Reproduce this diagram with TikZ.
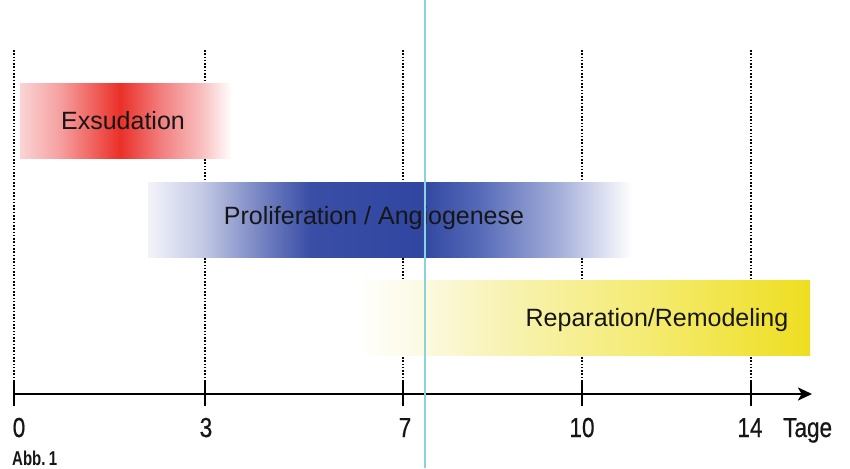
\documentclass[tikz,border=0pt]{standalone}
\usepackage{fontspec}
\setmainfont{Liberation Sans}
\newfontfamily\condfont[FakeStretch=0.82,FakeBold=0.6]{Liberation Sans}
\newfontfamily\abbfont[FakeStretch=0.75]{Liberation Sans Bold}
\usetikzlibrary{arrows.meta}

% colours of the phase bands
\definecolor{redA}{RGB}{250,212,212}
\definecolor{redB}{RGB}{246,160,160}
\definecolor{redC}{RGB}{234,48,40}
\definecolor{redD}{RGB}{242,125,125}
\definecolor{redE}{RGB}{248,188,188}
\definecolor{bluA}{RGB}{242,243,250}
\definecolor{bluB}{RGB}{198,203,230}
\definecolor{bluC}{RGB}{118,132,194}
\definecolor{bluD}{RGB}{58,78,166}
\definecolor{bluE}{RGB}{48,70,160}
\definecolor{bluF}{RGB}{86,106,184}
\definecolor{bluG}{RGB}{166,176,218}
\definecolor{yelA}{RGB}{252,250,228}
\definecolor{yelB}{RGB}{248,243,182}
\definecolor{yelC}{RGB}{244,235,112}
\definecolor{yelD}{RGB}{238,222,32}
\definecolor{guide}{RGB}{135,212,222}
\definecolor{ink}{RGB}{22,22,22}

% horizontal shadings: the band itself spans 25bp..75bp
\pgfdeclarehorizontalshading{redband}{100bp}{%
  color(0bp)=(redA); color(25bp)=(redA); color(34.4bp)=(redB);
  color(48.6bp)=(redC); color(58bp)=(redD); color(67.5bp)=(redE);
  color(75bp)=(white); color(100bp)=(white)}
\pgfdeclarehorizontalshading{blueband}{100bp}{%
  color(0bp)=(bluA); color(25bp)=(bluA); color(30.4bp)=(bluB);
  color(36.6bp)=(bluC); color(41.7bp)=(bluD); color(53.1bp)=(bluE);
  color(59.3bp)=(bluF); color(67.6bp)=(bluG);
  color(75bp)=(white); color(100bp)=(white)}
\pgfdeclarehorizontalshading{yellowband}{100bp}{%
  color(0bp)=(white); color(25bp)=(white); color(32.1bp)=(yelA);
  color(40.9bp)=(yelB); color(57.4bp)=(yelC);
  color(75bp)=(yelD); color(100bp)=(yelD)}

\tikzset{
  band/.style={shade, inner sep=0pt, minimum height=75pt},
  phase/.style={text=ink, font=\fontsize{25}{30}\selectfont, inner sep=0pt},
  dayline/.style={line width=1.6pt, dash pattern=on 1.6pt off 1.7pt, black},
  axisline/.style={line width=2.4pt, black, -{Stealth[length=14pt,width=13pt,inset=3.5pt]}},
  tickmark/.style={line width=2.6pt, black},
  daylabel/.style={text=ink, font=\condfont\fontsize{27.5}{32}\selectfont, inner sep=0pt, anchor=base},
}

\begin{document}
\begin{tikzpicture}[x=1pt,y=-1pt]
\useasboundingbox (0,0) rectangle (850,468);

% day positions on the time axis
\foreach \n/\x in {d0/14, d3/205, d7/403, d10/582, d14/751}{
  \coordinate (\n top) at (\x,50);
  \coordinate (\n up) at (\x,380);
  \coordinate (\n low) at (\x,406);
}

% dotted guide lines for each day
\foreach \n in {d0,d3,d7,d10,d14}
  \draw[dayline] (\n top) -- (\n up);

% phase bands
\node[band, shading=redband, minimum width=212pt] (exsband) at (126,121) {};
\node[band, shading=blueband, minimum width=484pt] (proband) at (390,220) {};
\node[band, shading=yellowband, minimum width=455pt] (repband) at (582.5,318) {};

\node[phase] (exs) at (123,121) {Exsudation};
\node[phase] (pro) at (374,218) {Proliferation / Angiogenese};
\node[phase] (rep) at (657,320) {Reparation/Remodeling};

% time axis with ticks
\coordinate (axstart) at (14,394);
\coordinate (axend) at (812,394);
\draw[axisline] (axstart) -- (axend);
\foreach \n in {d0,d3,d7,d10,d14}
  \draw[tickmark] (\n up) -- (\n low);

% day labels
\node[daylabel] (l0) at (19,437) {0};
\node[daylabel] (l3) at (206,437) {3};
\node[daylabel] (l7) at (405,437) {7};
\node[daylabel] (l10) at (582,437) {10};
\node[daylabel] (l14) at (750,437) {14};
\node[daylabel, anchor=base west] (tage) at (783,437) {Tage};

\node[text=ink, font=\abbfont\fontsize{20}{24}\selectfont, inner sep=0pt, anchor=base west] (abb) at (12,465) {Abb.\,1};

% thin cyan guide across the whole figure
\coordinate (gtop) at (425,0);
\coordinate (gbot) at (425,468);
\draw[guide, line width=1.2pt] (gtop) -- (gbot);
\end{tikzpicture}
\end{document}
